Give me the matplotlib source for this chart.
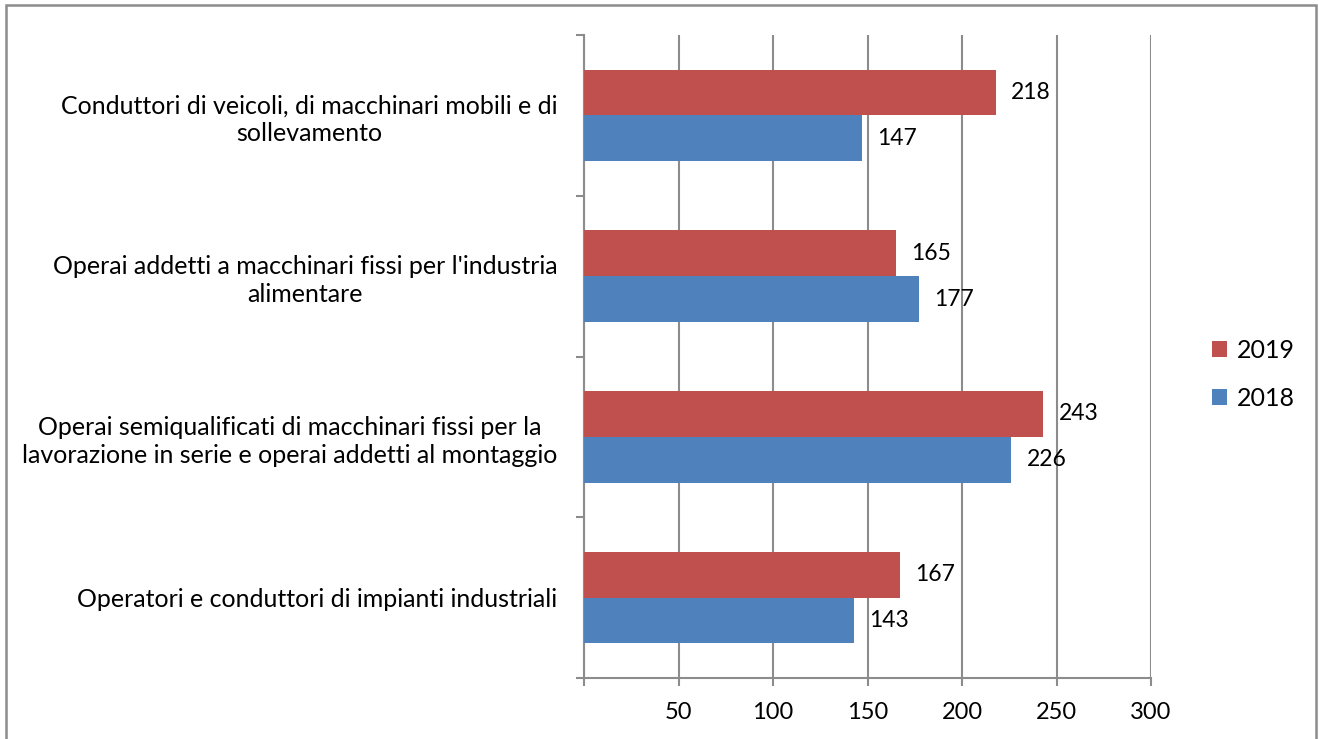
import matplotlib
matplotlib.use("Agg")
import matplotlib.pyplot as plt
from matplotlib.patches import Rectangle
import numpy as np

plt.rcParams['font.family'] = ['Lato', 'DejaVu Sans']

categories = [
    "Operatori e conduttori di impianti industriali",
    "Operai semiqualificati di macchinari fissi per la\nlavorazione in serie e operai addetti al montaggio",
    "Operai addetti a macchinari fissi per l'industria\nalimentare",
    "Conduttori di veicoli, di macchinari mobili e di\nsollevamento",
]
values_2018 = [143, 226, 177, 147]
values_2019 = [167, 243, 165, 218]
xticks = [50, 100, 150, 200, 250, 300]

RED = "#C0504D"
BLUE = "#4F81BD"
GRID = "#8C8C8C"

fig = plt.figure(figsize=(13.19, 7.39), dpi=100)
ax = fig.add_axes([584/1319, 1-678/739, (1151-584)/1319, (678-35)/739])

y = np.arange(len(categories))
h = 0.285
b18 = ax.barh(y - h/2, values_2018, height=h, color=BLUE, label="2018", zorder=3)
b19 = ax.barh(y + h/2, values_2019, height=h, color=RED, label="2019", zorder=3)

ax.bar_label(b18, padding=11, fontsize=16.5, color="black")
ax.bar_label(b19, padding=11, fontsize=16.5, color="black")

ax.set_xlim(0, 300)
ax.set_ylim(-0.5, len(categories) - 0.5)

ax.set_xticks([0] + xticks)
ax.set_xticklabels([""] + [str(v) for v in xticks], fontsize=17)
ax.set_yticks(y)
ax.set_yticklabels(categories, fontsize=18)
for lab in ax.get_yticklabels():
    lab.set_multialignment('center')
    lab.set_linespacing(1.25)
ax.tick_params(axis='y', which='major', length=0, pad=19)
ax.set_yticks(np.arange(-0.5, len(categories), 1), minor=True)
ax.tick_params(axis='y', which='minor', length=6, width=1.5, color=GRID, direction='out')
ax.tick_params(axis='x', which='major', length=6, width=1.5, color=GRID, direction='out', pad=11)

ax.grid(axis='x', color=GRID, linewidth=1.5, zorder=0)
for s in ['top', 'right']:
    ax.spines[s].set_visible(False)
for s in ['left', 'bottom']:
    ax.spines[s].set_color(GRID)
    ax.spines[s].set_linewidth(1.5)

handles = [b19, b18]
leg = fig.legend(handles, ["2019", "2018"], loc='center left',
                 bbox_to_anchor=(1199/1319, 1-374/739), frameon=False,
                 fontsize=18, handlelength=0.6, handleheight=0.6,
                 handletextpad=0.4, labelspacing=1.0, borderpad=0)

fig.patches.append(Rectangle((6/1319, -0.05), (1316-6)/1319, 1-5/739+0.05,
                             transform=fig.transFigure, fill=False,
                             edgecolor="#8C8C8C", linewidth=1.8))

fig.savefig("out.png", dpi=100)
